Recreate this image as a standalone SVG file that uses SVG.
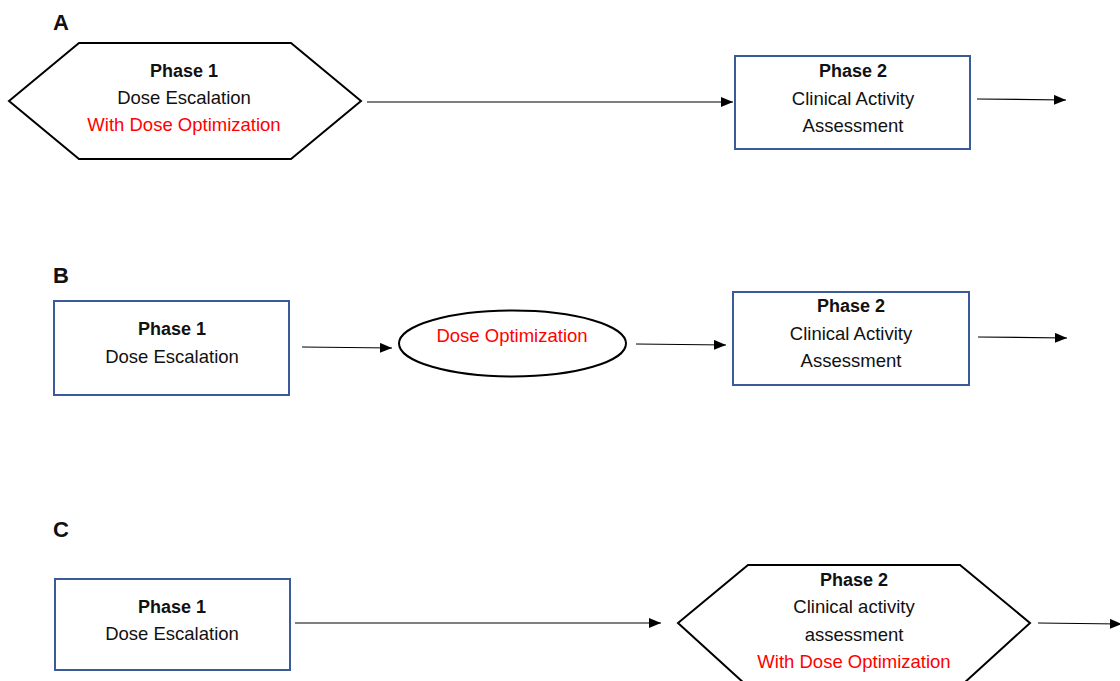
<svg xmlns="http://www.w3.org/2000/svg" width="1120" height="681" viewBox="0 0 1120 681">
<style>
text{font-family:"Liberation Sans",Arial,sans-serif;font-size:18.5px;fill:#111;text-anchor:middle}
.b{font-weight:bold;font-size:18px}
.r{fill:#f00}
.lbl{font-size:22px;font-weight:bold;text-anchor:start}
.box{fill:#fff;stroke:#3b5a9a;stroke-width:2}
.shape{fill:#fff;stroke:#000;stroke-width:2}
.conn line{stroke:#000;stroke-width:1.2}
</style>
<defs>
<marker id="ah" markerWidth="12" markerHeight="10" refX="12" refY="5" orient="auto" markerUnits="userSpaceOnUse">
<path d="M0,0 L12,5 L0,10 Z" fill="#000"/>
</marker>
</defs>
<rect width="1120" height="681" fill="#fff"/>
<text class="lbl" x="53" y="30">A</text>
<text class="lbl" x="53" y="283">B</text>
<text class="lbl" x="53" y="537">C</text>

<g id="a-phase1">
<polygon class="shape" points="9,101 79,43 291,43 361,101 291,159 79,159"/>
<text class="b" x="184" y="77">Phase 1</text>
<text x="184" y="104">Dose Escalation</text>
<text class="r" x="184" y="131">With Dose Optimization</text>
</g>
<g id="a-phase2">
<rect class="box" x="735" y="56" width="235" height="93"/>
<text class="b" x="853" y="77">Phase 2</text>
<text x="853" y="105">Clinical Activity</text>
<text x="853" y="132">Assessment</text>
</g>

<g id="b-phase1">
<rect class="box" x="54" y="301" width="235" height="94"/>
<text class="b" x="172" y="335">Phase 1</text>
<text x="172" y="363">Dose Escalation</text>
</g>
<g id="b-doseopt">
<ellipse class="shape" cx="512.5" cy="343.5" rx="113.5" ry="33"/>
<text class="r" x="512" y="342">Dose Optimization</text>
</g>
<g id="b-phase2">
<rect class="box" x="733" y="292" width="236" height="93"/>
<text class="b" x="851" y="312">Phase 2</text>
<text x="851" y="340">Clinical Activity</text>
<text x="851" y="367">Assessment</text>
</g>

<g id="c-phase1">
<rect class="box" x="55" y="579" width="235" height="91"/>
<text class="b" x="172" y="613">Phase 1</text>
<text x="172" y="640">Dose Escalation</text>
</g>
<g id="c-phase2">
<polygon class="shape" points="678,623 748,565 960,565 1030,623 963,684 745,684"/>
<text class="b" x="854" y="586">Phase 2</text>
<text x="854" y="613">Clinical activity</text>
<text x="854" y="641">assessment</text>
<text class="r" x="854" y="668">With Dose Optimization</text>
</g>

<g id="connectors" class="conn">
<line x1="367" y1="102" x2="733" y2="102" marker-end="url(#ah)"/>
<line x1="977" y1="99" x2="1066" y2="100" marker-end="url(#ah)"/>
<line x1="302" y1="347" x2="392" y2="348" marker-end="url(#ah)"/>
<line x1="636" y1="344" x2="726" y2="345" marker-end="url(#ah)"/>
<line x1="978" y1="337" x2="1067" y2="338" marker-end="url(#ah)"/>
<line x1="295" y1="623" x2="661" y2="623" marker-end="url(#ah)"/>
<line x1="1038" y1="623" x2="1122" y2="624" marker-end="url(#ah)"/>
</g>
</svg>
